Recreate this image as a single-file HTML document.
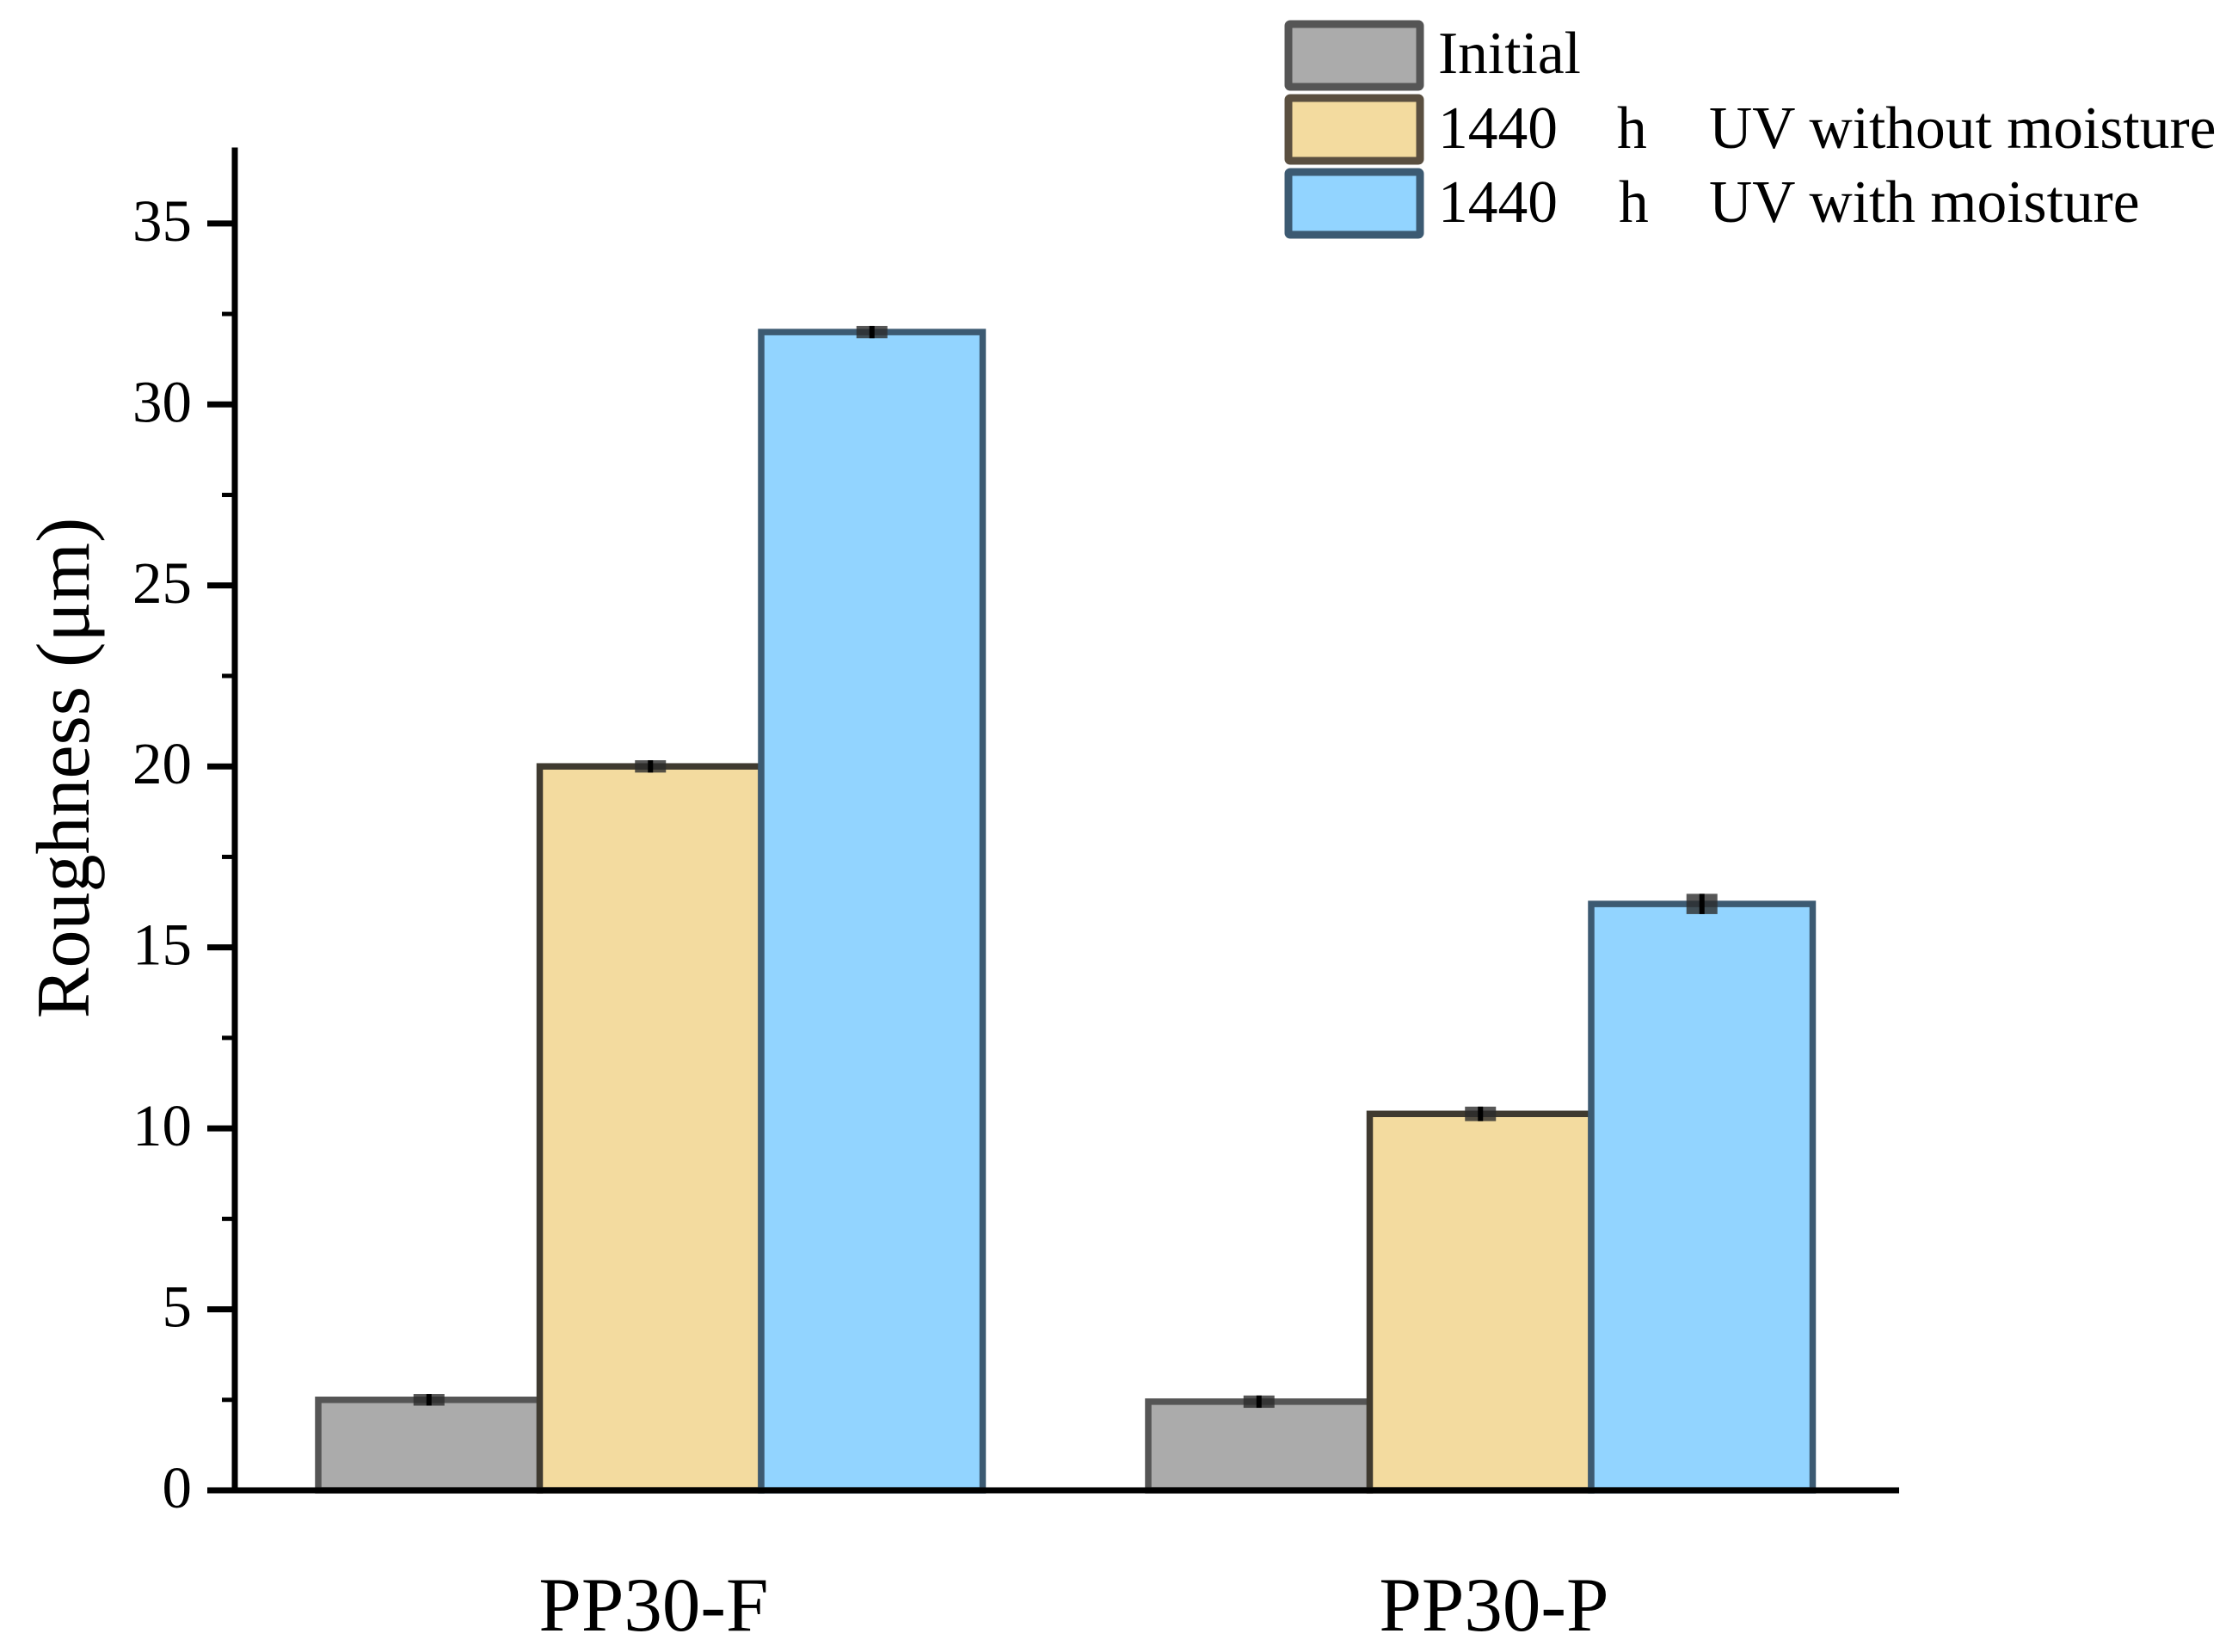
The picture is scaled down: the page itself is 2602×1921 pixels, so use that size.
<!DOCTYPE html>
<html lang="en">
<head>
<meta charset="utf-8">
<title>Roughness chart</title>
<style>
html,body{margin:0;padding:0;background:#fff;}
svg{display:block;}
text{font-family:"Liberation Serif",serif;fill:#000;}
</style>
</head>
<body>
<svg id="chart" xmlns="http://www.w3.org/2000/svg" width="2602" height="1921" viewBox="0 0 2602 1921">
  <rect width="2602" height="1921" fill="#fff"/>
  <g id="bars"></g>
  <g id="errors"></g>
  <g id="axes"></g>
  <text transform="translate(103,893) rotate(-90)" text-anchor="middle" font-size="88">Roughness (μm)</text>
  <g>
    <g>
      <rect x="1498" y="28" width="153" height="73" rx="2" fill="#ababab" stroke="#555555" stroke-width="9"/>
      <text x="1672" y="85" font-size="69.5">Initial</text>
    </g>
    <g>
      <rect x="1498" y="114" width="153" height="73" rx="2" fill="#f3db9f" stroke="#5a4f40" stroke-width="9"/>
      <text font-size="69.5" y="172"><tspan x="1672">1440</tspan><tspan x="1880">h</tspan><tspan x="1987">UV without moisture</tspan></text>
    </g>
    <g>
      <rect x="1498" y="200" width="153" height="73" rx="2" fill="#92d4ff" stroke="#3c5a72" stroke-width="9"/>
      <text font-size="69.5" y="258"><tspan x="1672">1440</tspan><tspan x="1882">h</tspan><tspan x="1987">UV with moisture</tspan></text>
    </g>
  </g>
</svg>
<script>
const categories = ["PP30-F", "PP30-P"];
const initialValues = [2.5, 2.45];
const withoutMoistureValues = [20.0, 10.4];
const withMoistureValues = [32.0, 16.2];
const initialErrors = [0.16, 0.17];
const withoutMoistureErrors = [0.17, 0.2];
const withMoistureErrors = [0.17, 0.28];
const seriesNames = ["initial", "uv-without-moisture", "uv-with-moisture"];
const majorTickValues = [0, 5, 10, 15, 20, 25, 30, 35];
const minorTickValues = [2.5, 7.5, 12.5, 17.5, 22.5, 27.5, 32.5];
const tickLabels = ["0", "5", "10", "15", "20", "25", "30", "35"];

const seriesValues = [initialValues, withoutMoistureValues, withMoistureValues];
const seriesErrors = [initialErrors, withoutMoistureErrors, withMoistureErrors];
const fills = ["#ababab", "#f3db9f", "#92d4ff"];
const strokes = ["#555555", "#3f3a30", "#3c5a72"];

const NS = "http://www.w3.org/2000/svg";
const yBase = 1733, yPerUnit = 42.09, yMax = 37.1;
const axisX = 273, xAxisEnd = 2208;
const groupStart = 370, groupStep = 965, barWidth = 257.5;
const labelStart = 760, labelStep = 977;

function yScale(v) { return yBase - v * yPerUnit; }
function xScale(cat, s) { return groupStart + groupStep * cat + barWidth * s; }
function labelX(cat) { return labelStart + labelStep * cat; }
function make(tag, attrs, parent) {
  const el = document.createElementNS(NS, tag);
  for (const k in attrs) el.setAttribute(k, attrs[k]);
  parent.appendChild(el);
  return el;
}

const barsG = document.getElementById("bars");
const errorsG = document.getElementById("errors");
const axesG = document.getElementById("axes");

categories.forEach(function (cat, c) {
  seriesValues.forEach(function (vals, s) {
    const rect = make("rect", {
      x: xScale(c, s),
      y: yScale(vals[c]),
      width: barWidth,
      height: yBase - yScale(vals[c]),
      fill: fills[s],
      stroke: strokes[s],
      "stroke-width": 7.5
    }, barsG);
    
    
  });
});

categories.forEach(function (cat, c) {
  seriesValues.forEach(function (vals, s) {
    const cx = xScale(c, s) + barWidth / 2;
    const err = seriesErrors[s][c];
    const box = make("rect", {
      x: cx - 18,
      y: yScale(vals[c] + err),
      width: 36,
      height: yScale(vals[c] - err) - yScale(vals[c] + err),
      fill: "#2c2c2c",
      opacity: 0.8
    }, errorsG);
    
    
    const stem = make("line", {
      x1: cx,
      x2: cx,
      y1: yScale(vals[c] + err),
      y2: yScale(vals[c] - err),
      stroke: "#000",
      "stroke-width": 6
    }, errorsG);
    
    
  });
});

const yAxisLine = make("line", { x1: axisX, x2: axisX, y1: yScale(yMax), y2: yBase + 3, stroke: "#000", "stroke-width": 7 }, axesG);


const xAxisLine = make("line", { x1: 241, x2: xAxisEnd, y1: yBase, y2: yBase, stroke: "#000", "stroke-width": 7 }, axesG);



majorTickValues.forEach(function (v, i) {
  const tick = make("line", { x1: 241, x2: axisX, y1: yScale(v), y2: yScale(v), stroke: "#000", "stroke-width": 7 }, axesG);
  
  
  const label = make("text", { x: 223, y: yScale(v) + 20, "text-anchor": "end", "font-size": 69 }, axesG);
  
  
  label.textContent = tickLabels[i];
});
minorTickValues.forEach(function (v) {
  const tick = make("line", { x1: 258, x2: axisX, y1: yScale(v), y2: yScale(v), stroke: "#000", "stroke-width": 5 }, axesG);
  
  
});
categories.forEach(function (cat, c) {
  const label = make("text", { x: labelX(c), y: 1896, "text-anchor": "middle", "font-size": 89 }, axesG);
  
  
  label.textContent = cat;
});
</script>
</body>
</html>
